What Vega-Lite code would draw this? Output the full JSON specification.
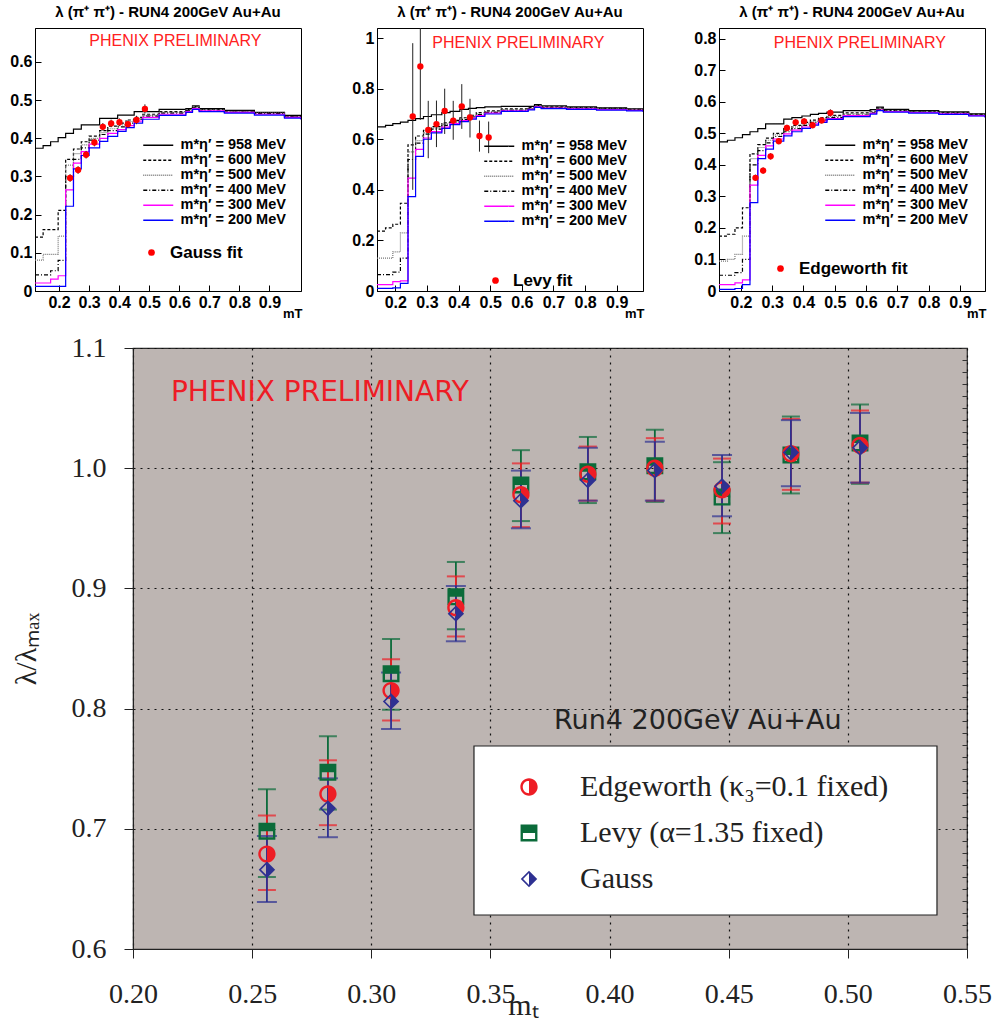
{
"$schema": "https://vega.github.io/schema/vega-lite/v6.json",
"background": "white",
"padding": {"left": 9, "top": 4, "right": 2, "bottom": 0},
"config": {
  "view": {"stroke": "black", "strokeWidth": 1},
  "axis": {"labelFlush": false, "labelOverlap": false},
  "font": "Liberation Sans"
},
"datasets": {
  "curves": [
    {"panel":1,"mt":0.12,"m958":0.374,"m600":0.141,"m500":0.081,"m400":0.042,"m300":0.021,"m200":0.012},
    {"panel":1,"mt":0.147,"m958":0.381,"m600":0.161,"m500":0.096,"m400":0.042,"m300":0.021,"m200":0.012},
    {"panel":1,"mt":0.172,"m958":0.391,"m600":0.161,"m500":0.096,"m400":0.053,"m300":0.031,"m200":0.012},
    {"panel":1,"mt":0.197,"m958":0.402,"m600":0.211,"m500":0.144,"m400":0.08,"m300":0.04,"m200":0.012},
    {"panel":1,"mt":0.222,"m958":0.413,"m600":0.345,"m500":0.33,"m400":0.3,"m300":0.265,"m200":0.222},
    {"panel":1,"mt":0.248,"m958":0.424,"m600":0.372,"m500":0.36,"m400":0.345,"m300":0.335,"m200":0.32},
    {"panel":1,"mt":0.274,"m958":0.435,"m600":0.391,"m500":0.383,"m400":0.375,"m300":0.365,"m200":0.355},
    {"panel":1,"mt":0.30,"m958":0.435,"m600":0.406,"m500":0.4,"m400":0.395,"m300":0.385,"m200":0.375},
    {"panel":1,"mt":0.335,"m958":0.452,"m600":0.42,"m500":0.415,"m400":0.41,"m300":0.4,"m200":0.392},
    {"panel":1,"mt":0.362,"m958":0.452,"m600":0.432,"m500":0.425,"m400":0.42,"m300":0.413,"m200":0.405},
    {"panel":1,"mt":0.395,"m958":0.461,"m600":0.44,"m500":0.435,"m400":0.43,"m300":0.423,"m200":0.418},
    {"panel":1,"mt":0.423,"m958":0.461,"m600":0.448,"m500":0.444,"m400":0.44,"m300":0.433,"m200":0.428},
    {"panel":1,"mt":0.45,"m958":0.47,"m600":0.455,"m500":0.452,"m400":0.45,"m300":0.445,"m200":0.44},
    {"panel":1,"mt":0.478,"m958":0.47,"m600":0.463,"m500":0.46,"m400":0.458,"m300":0.455,"m200":0.45},
    {"panel":1,"mt":0.533,"m958":0.476,"m600":0.47,"m500":0.468,"m400":0.466,"m300":0.463,"m200":0.46},
    {"panel":1,"mt":0.622,"m958":0.478,"m600":0.475,"m500":0.474,"m400":0.472,"m300":0.47,"m200":0.468},
    {"panel":1,"mt":0.644,"m958":0.485,"m600":0.483,"m500":0.482,"m400":0.48,"m300":0.478,"m200":0.476},
    {"panel":1,"mt":0.666,"m958":0.478,"m600":0.476,"m500":0.475,"m400":0.474,"m300":0.472,"m200":0.47},
    {"panel":1,"mt":0.75,"m958":0.473,"m600":0.472,"m500":0.47,"m400":0.469,"m300":0.468,"m200":0.466},
    {"panel":1,"mt":0.85,"m958":0.468,"m600":0.467,"m500":0.466,"m400":0.465,"m300":0.463,"m200":0.461},
    {"panel":1,"mt":0.95,"m958":0.46,"m600":0.458,"m500":0.457,"m400":0.456,"m300":0.455,"m200":0.453},
    {"panel":1,"mt":1.005,"m958":0.455,"m600":0.453,"m500":0.452,"m400":0.451,"m300":0.45,"m200":0.449},
    {"panel":2,"mt":0.142,"m958":0.649,"m600":0.237,"m500":0.13,"m400":0.065,"m300":0.025,"m200":0.01},
    {"panel":2,"mt":0.169,"m958":0.655,"m600":0.25,"m500":0.13,"m400":0.065,"m300":0.025,"m200":0.01},
    {"panel":2,"mt":0.192,"m958":0.662,"m600":0.264,"m500":0.155,"m400":0.075,"m300":0.037,"m200":0.012},
    {"panel":2,"mt":0.216,"m958":0.668,"m600":0.347,"m500":0.23,"m400":0.13,"m300":0.04,"m200":0.03},
    {"panel":2,"mt":0.240,"m958":0.675,"m600":0.578,"m500":0.55,"m400":0.52,"m300":0.446,"m200":0.373},
    {"panel":2,"mt":0.264,"m958":0.682,"m600":0.613,"m500":0.595,"m400":0.585,"m300":0.56,"m200":0.532},
    {"panel":2,"mt":0.289,"m958":0.69,"m600":0.635,"m500":0.625,"m400":0.62,"m300":0.605,"m200":0.6},
    {"panel":2,"mt":0.314,"m958":0.697,"m600":0.65,"m500":0.645,"m400":0.64,"m300":0.63,"m200":0.625},
    {"panel":2,"mt":0.347,"m958":0.705,"m600":0.665,"m500":0.66,"m400":0.655,"m300":0.648,"m200":0.643},
    {"panel":2,"mt":0.373,"m958":0.71,"m600":0.675,"m500":0.67,"m400":0.668,"m300":0.662,"m200":0.658},
    {"panel":2,"mt":0.404,"m958":0.718,"m600":0.685,"m500":0.68,"m400":0.678,"m300":0.674,"m200":0.67},
    {"panel":2,"mt":0.431,"m958":0.722,"m600":0.695,"m500":0.69,"m400":0.688,"m300":0.684,"m200":0.68},
    {"panel":2,"mt":0.456,"m958":0.725,"m600":0.705,"m500":0.7,"m400":0.698,"m300":0.694,"m200":0.69},
    {"panel":2,"mt":0.483,"m958":0.728,"m600":0.712,"m500":0.708,"m400":0.706,"m300":0.703,"m200":0.7},
    {"panel":2,"mt":0.535,"m958":0.73,"m600":0.72,"m500":0.716,"m400":0.714,"m300":0.712,"m200":0.71},
    {"panel":2,"mt":0.62,"m958":0.73,"m600":0.725,"m500":0.722,"m400":0.72,"m300":0.718,"m200":0.716},
    {"panel":2,"mt":0.640,"m958":0.737,"m600":0.733,"m500":0.731,"m400":0.73,"m300":0.728,"m200":0.726},
    {"panel":2,"mt":0.661,"m958":0.732,"m600":0.728,"m500":0.726,"m400":0.725,"m300":0.723,"m200":0.721},
    {"panel":2,"mt":0.741,"m958":0.728,"m600":0.725,"m500":0.723,"m400":0.722,"m300":0.72,"m200":0.718},
    {"panel":2,"mt":0.836,"m958":0.724,"m600":0.722,"m500":0.72,"m400":0.719,"m300":0.717,"m200":0.715},
    {"panel":2,"mt":0.931,"m958":0.72,"m600":0.718,"m500":0.716,"m400":0.715,"m300":0.714,"m200":0.712},
    {"panel":2,"mt":0.983,"m958":0.716,"m600":0.714,"m500":0.712,"m400":0.711,"m300":0.71,"m200":0.709},
    {"panel":3,"mt":0.13,"m958":0.473,"m600":0.174,"m500":0.095,"m400":0.05,"m300":0.02,"m200":0.005},
    {"panel":3,"mt":0.157,"m958":0.478,"m600":0.18,"m500":0.1,"m400":0.05,"m300":0.02,"m200":0.005},
    {"panel":3,"mt":0.181,"m958":0.486,"m600":0.2,"m500":0.116,"m400":0.058,"m300":0.026,"m200":0.008},
    {"panel":3,"mt":0.205,"m958":0.496,"m600":0.264,"m500":0.174,"m400":0.1,"m300":0.035,"m200":0.02},
    {"panel":3,"mt":0.229,"m958":0.505,"m600":0.435,"m500":0.42,"m400":0.4,"m300":0.336,"m200":0.28},
    {"panel":3,"mt":0.254,"m958":0.515,"m600":0.464,"m500":0.455,"m400":0.445,"m300":0.43,"m200":0.42},
    {"panel":3,"mt":0.279,"m958":0.53,"m600":0.485,"m500":0.478,"m400":0.47,"m300":0.46,"m200":0.45},
    {"panel":3,"mt":0.304,"m958":0.53,"m600":0.5,"m500":0.495,"m400":0.49,"m300":0.482,"m200":0.475},
    {"panel":3,"mt":0.337,"m958":0.545,"m600":0.515,"m500":0.51,"m400":0.505,"m300":0.498,"m200":0.492},
    {"panel":3,"mt":0.363,"m958":0.55,"m600":0.525,"m500":0.52,"m400":0.515,"m300":0.51,"m200":0.505},
    {"panel":3,"mt":0.395,"m958":0.555,"m600":0.535,"m500":0.53,"m400":0.525,"m300":0.52,"m200":0.516},
    {"panel":3,"mt":0.422,"m958":0.56,"m600":0.542,"m500":0.538,"m400":0.534,"m300":0.53,"m200":0.526},
    {"panel":3,"mt":0.448,"m958":0.563,"m600":0.55,"m500":0.546,"m400":0.542,"m300":0.539,"m200":0.535},
    {"panel":3,"mt":0.475,"m958":0.567,"m600":0.557,"m500":0.554,"m400":0.55,"m300":0.547,"m200":0.544},
    {"panel":3,"mt":0.527,"m958":0.572,"m600":0.565,"m500":0.562,"m400":0.558,"m300":0.556,"m200":0.553},
    {"panel":3,"mt":0.613,"m958":0.575,"m600":0.57,"m500":0.568,"m400":0.565,"m300":0.563,"m200":0.561},
    {"panel":3,"mt":0.634,"m958":0.583,"m600":0.58,"m500":0.578,"m400":0.576,"m300":0.574,"m200":0.572},
    {"panel":3,"mt":0.655,"m958":0.576,"m600":0.573,"m500":0.572,"m400":0.57,"m300":0.569,"m200":0.567},
    {"panel":3,"mt":0.736,"m958":0.572,"m600":0.57,"m500":0.568,"m400":0.567,"m300":0.566,"m200":0.564},
    {"panel":3,"mt":0.832,"m958":0.568,"m600":0.566,"m500":0.564,"m400":0.563,"m300":0.562,"m200":0.56},
    {"panel":3,"mt":0.928,"m958":0.562,"m600":0.56,"m500":0.558,"m400":0.557,"m300":0.556,"m200":0.555},
    {"panel":3,"mt":0.98,"m958":0.556,"m600":0.555,"m500":0.553,"m400":0.552,"m300":0.551,"m200":0.55}
  ],
  "fits": [
    {"panel":1,"fit":"Gauss fit","mt":0.2367,"lam":0.296,"lo":0.286,"hi":0.306},
    {"panel":1,"fit":"Gauss fit","mt":0.2633,"lam":0.317,"lo":0.307,"hi":0.327},
    {"panel":1,"fit":"Gauss fit","mt":0.29,"lam":0.357,"lo":0.347,"hi":0.367},
    {"panel":1,"fit":"Gauss fit","mt":0.3177,"lam":0.389,"lo":0.379,"hi":0.399},
    {"panel":1,"fit":"Gauss fit","mt":0.3457,"lam":0.43,"lo":0.42,"hi":0.44},
    {"panel":1,"fit":"Gauss fit","mt":0.3733,"lam":0.439,"lo":0.429,"hi":0.449},
    {"panel":1,"fit":"Gauss fit","mt":0.401,"lam":0.442,"lo":0.432,"hi":0.452},
    {"panel":1,"fit":"Gauss fit","mt":0.429,"lam":0.437,"lo":0.427,"hi":0.447},
    {"panel":1,"fit":"Gauss fit","mt":0.4577,"lam":0.448,"lo":0.437,"hi":0.459},
    {"panel":1,"fit":"Gauss fit","mt":0.4857,"lam":0.477,"lo":0.465,"hi":0.489},
    {"panel":2,"fit":"Levy fit","mt":0.255,"lam":0.69,"lo":0.40,"hi":0.98},
    {"panel":2,"fit":"Levy fit","mt":0.279,"lam":0.888,"lo":0.677,"hi":1.2},
    {"panel":2,"fit":"Levy fit","mt":0.304,"lam":0.637,"lo":0.525,"hi":0.752},
    {"panel":2,"fit":"Levy fit","mt":0.33,"lam":0.66,"lo":0.569,"hi":0.753},
    {"panel":2,"fit":"Levy fit","mt":0.356,"lam":0.712,"lo":0.621,"hi":0.8},
    {"panel":2,"fit":"Levy fit","mt":0.383,"lam":0.674,"lo":0.598,"hi":0.752},
    {"panel":2,"fit":"Levy fit","mt":0.41,"lam":0.73,"lo":0.641,"hi":0.818},
    {"panel":2,"fit":"Levy fit","mt":0.436,"lam":0.686,"lo":0.607,"hi":0.76},
    {"panel":2,"fit":"Levy fit","mt":0.466,"lam":0.613,"lo":0.551,"hi":0.674},
    {"panel":2,"fit":"Levy fit","mt":0.495,"lam":0.607,"lo":0.545,"hi":0.67},
    {"panel":3,"fit":"Edgeworth fit","mt":0.2465,"lam":0.359,"lo":0.349,"hi":0.369},
    {"panel":3,"fit":"Edgeworth fit","mt":0.271,"lam":0.382,"lo":0.372,"hi":0.392},
    {"panel":3,"fit":"Edgeworth fit","mt":0.295,"lam":0.427,"lo":0.417,"hi":0.437},
    {"panel":3,"fit":"Edgeworth fit","mt":0.321,"lam":0.475,"lo":0.465,"hi":0.485},
    {"panel":3,"fit":"Edgeworth fit","mt":0.347,"lam":0.517,"lo":0.507,"hi":0.527},
    {"panel":3,"fit":"Edgeworth fit","mt":0.375,"lam":0.535,"lo":0.525,"hi":0.545},
    {"panel":3,"fit":"Edgeworth fit","mt":0.402,"lam":0.538,"lo":0.528,"hi":0.548},
    {"panel":3,"fit":"Edgeworth fit","mt":0.429,"lam":0.526,"lo":0.516,"hi":0.536},
    {"panel":3,"fit":"Edgeworth fit","mt":0.458,"lam":0.541,"lo":0.531,"hi":0.551},
    {"panel":3,"fit":"Edgeworth fit","mt":0.486,"lam":0.565,"lo":0.554,"hi":0.576}
  ],
  "ratio": [
    {"fit":"Levy","mt":0.2562,"lam":0.698,"lo":0.66,"hi":0.733},
    {"fit":"Levy","mt":0.2818,"lam":0.747,"lo":0.716,"hi":0.777},
    {"fit":"Levy","mt":0.3083,"lam":0.829,"lo":0.799,"hi":0.858},
    {"fit":"Levy","mt":0.3355,"lam":0.893,"lo":0.866,"hi":0.922},
    {"fit":"Levy","mt":0.3628,"lam":0.986,"lo":0.956,"hi":1.015},
    {"fit":"Levy","mt":0.3909,"lam":0.997,"lo":0.971,"hi":1.026},
    {"fit":"Levy","mt":0.419,"lam":1.002,"lo":0.972,"hi":1.032},
    {"fit":"Levy","mt":0.4472,"lam":0.976,"lo":0.946,"hi":1.005},
    {"fit":"Levy","mt":0.4761,"lam":1.011,"lo":0.979,"hi":1.043},
    {"fit":"Levy","mt":0.5051,"lam":1.021,"lo":0.987,"hi":1.053},
    {"fit":"Edgeworth","mt":0.2562,"lam":0.679,"lo":0.649,"hi":0.711},
    {"fit":"Edgeworth","mt":0.2818,"lam":0.729,"lo":0.703,"hi":0.757},
    {"fit":"Edgeworth","mt":0.3083,"lam":0.815,"lo":0.79,"hi":0.841},
    {"fit":"Edgeworth","mt":0.3355,"lam":0.884,"lo":0.86,"hi":0.91},
    {"fit":"Edgeworth","mt":0.3628,"lam":0.978,"lo":0.951,"hi":1.004},
    {"fit":"Edgeworth","mt":0.3909,"lam":0.995,"lo":0.973,"hi":1.018},
    {"fit":"Edgeworth","mt":0.419,"lam":1.0,"lo":0.973,"hi":1.025},
    {"fit":"Edgeworth","mt":0.4472,"lam":0.982,"lo":0.954,"hi":1.008},
    {"fit":"Edgeworth","mt":0.4761,"lam":1.012,"lo":0.982,"hi":1.041},
    {"fit":"Edgeworth","mt":0.5051,"lam":1.019,"lo":0.988,"hi":1.048},
    {"fit":"Gauss","mt":0.2562,"lam":0.666,"lo":0.639,"hi":0.694},
    {"fit":"Gauss","mt":0.2818,"lam":0.717,"lo":0.693,"hi":0.742},
    {"fit":"Gauss","mt":0.3083,"lam":0.806,"lo":0.783,"hi":0.83},
    {"fit":"Gauss","mt":0.3355,"lam":0.879,"lo":0.856,"hi":0.902},
    {"fit":"Gauss","mt":0.3628,"lam":0.973,"lo":0.95,"hi":0.998},
    {"fit":"Gauss","mt":0.3909,"lam":0.99,"lo":0.973,"hi":1.017},
    {"fit":"Gauss","mt":0.419,"lam":0.998,"lo":0.973,"hi":1.022},
    {"fit":"Gauss","mt":0.4472,"lam":0.985,"lo":0.96,"hi":1.011},
    {"fit":"Gauss","mt":0.4761,"lam":1.013,"lo":0.985,"hi":1.04},
    {"fit":"Gauss","mt":0.5051,"lam":1.017,"lo":0.988,"hi":1.046}
  ]
},
"columns": 1,
"align": "none",
"bounds": "full",
"spacing": 12,
"resolve": {"scale": {"color": "independent", "strokeDash": "independent", "shape": "independent", "size": "independent"}},
"concat": [
 {
  "hconcat": [
   {
    "width": 266, "height": 263,
    "title": {"text": "λ (π⁺ π⁺) - RUN4 200GeV Au+Au", "font": "Liberation Sans", "fontSize": 15, "fontWeight": "bold", "color": "black", "offset": 8},
    "layer": [
     {
      "data": {"name": "curves"},
      "transform": [{"filter": "datum.panel == 1"}, {"fold": ["m958","m600","m500","m400","m300","m200"], "as": ["curve","lam"]}],
      "mark": {"type": "line", "interpolate": "step-after", "strokeWidth": 1.2, "clip": true},
      "encoding": {
       "x": {"field": "mt", "type": "quantitative", "scale": {"domain": [0.12, 1.005], "nice": false, "zero": false},
             "axis": {"values": [0.2,0.3,0.4,0.5,0.6,0.7,0.8,0.9], "tickCount": 30, "format": "~g", "labelOverlap": false, "labelFont": "Liberation Sans", "labelFontSize": 16, "labelFontWeight": "bold", "labelColor": "black", "labelPadding": 9, "tickSize": -6, "tickColor": "black", "domainColor": "black", "grid": false,
                      "title": "mT", "titleFont": "Liberation Sans", "titleFontSize": 13, "titleFontWeight": "bold", "titleColor": "black", "titleAlign": "right", "titleX": 267, "titleY": 22, "titleBaseline": "middle"}},
       "y": {"field": "lam", "type": "quantitative", "scale": {"domain": [0, 0.689], "nice": false, "zero": false},
             "axis": {"values": [0,0.1,0.2,0.3,0.4,0.5,0.6], "tickCount": 30, "format": "~g", "labelOverlap": false, "labelFont": "Liberation Sans", "labelFontSize": 16, "labelFontWeight": "bold", "labelColor": "black", "labelPadding": 9, "tickSize": -6, "tickColor": "black", "domainColor": "black", "grid": false, "title": null}},
       "color": {"field": "curve", "type": "nominal", "scale": {"domain": ["m958","m600","m500","m400","m300","m200"], "range": ["black","black","#777777","black","#ff00ff","#0000ff"]},
                 "legend": {"orient": "none", "legendX": 116, "legendY": 110, "title": null, "symbolType": "M-3,0L3,0", "symbolSize": 100, "symbolStrokeWidth": 1.4, "labelFont": "Liberation Sans", "labelFontSize": 14.5, "labelFontWeight": "bold", "labelColor": "black", "labelOffset": 15, "rowPadding": 0, "padding": 0, "labelExpr": "'m*η′ = ' + substring(datum.label, 1) + ' MeV'"}},
       "strokeDash": {"field": "curve", "type": "nominal", "scale": {"domain": ["m958","m600","m500","m400","m300","m200"], "range": [[1,0],[3,2],[1,1],[4,2,1,2],[1,0],[1,0]]},
                 "legend": {"orient": "none", "legendX": 116, "legendY": 110, "title": null, "symbolType": "M-3,0L3,0", "symbolSize": 100, "symbolStrokeWidth": 1.4, "labelFont": "Liberation Sans", "labelFontSize": 14.5, "labelFontWeight": "bold", "labelColor": "black", "labelOffset": 15, "rowPadding": 0, "padding": 0, "labelExpr": "'m*η′ = ' + substring(datum.label, 1) + ' MeV'"}}
      }
     },
     {
      "data": {"name": "fits"},
      "transform": [{"filter": "datum.panel == 1"}],
      "mark": {"type": "rule", "color": "#222222", "strokeWidth": 1, "clip": true},
      "encoding": {"x": {"field": "mt", "type": "quantitative"}, "y": {"field": "lo", "type": "quantitative"}, "y2": {"field": "hi"}}
     },
     {
      "data": {"name": "fits"},
      "transform": [{"filter": "datum.panel == 1"}],
      "mark": {"type": "point", "filled": true, "color": "#ff0000", "opacity": 1, "size": 40},
      "encoding": {"x": {"field": "mt", "type": "quantitative"}, "y": {"field": "lam", "type": "quantitative"},
                   "shape": {"field": "fit", "type": "nominal", "scale": {"range": ["circle"]}, "legend": {"orient": "none", "legendX": 108, "legendY": 216, "title": null, "symbolSize": 45, "labelFont": "Liberation Sans", "labelFontSize": 17, "labelFontWeight": "bold", "labelColor": "black", "labelOffset": 10, "padding": 0}}}
     },
     {
      "data": {"values": [{}]},
      "mark": {"type": "text", "text": "PHENIX PRELIMINARY", "color": "#ff2020", "font": "Liberation Sans", "fontSize": 16},
      "encoding": {"x": {"datum": 0.587, "type": "quantitative"}, "y": {"datum": 0.656, "type": "quantitative"}}
     }
    ]
   },
   {
    "width": 266, "height": 263,
    "title": {"text": "λ (π⁺ π⁺) - RUN4 200GeV Au+Au", "font": "Liberation Sans", "fontSize": 15, "fontWeight": "bold", "color": "black", "offset": 8},
    "layer": [
     {
      "data": {"name": "curves"},
      "transform": [{"filter": "datum.panel == 2"}, {"fold": ["m958","m600","m500","m400","m300","m200"], "as": ["curve","lam"]}],
      "mark": {"type": "line", "interpolate": "step-after", "strokeWidth": 1.2, "clip": true},
      "encoding": {
       "x": {"field": "mt", "type": "quantitative", "scale": {"domain": [0.142, 0.983], "nice": false, "zero": false},
             "axis": {"values": [0.2,0.3,0.4,0.5,0.6,0.7,0.8,0.9], "tickCount": 30, "format": "~g", "labelOverlap": false, "labelFont": "Liberation Sans", "labelFontSize": 16, "labelFontWeight": "bold", "labelColor": "black", "labelPadding": 9, "tickSize": -6, "tickColor": "black", "domainColor": "black", "grid": false,
                      "title": "mT", "titleFont": "Liberation Sans", "titleFontSize": 13, "titleFontWeight": "bold", "titleColor": "black", "titleAlign": "right", "titleX": 267, "titleY": 22, "titleBaseline": "middle"}},
       "y": {"field": "lam", "type": "quantitative", "scale": {"domain": [0, 1.04], "nice": false, "zero": false},
             "axis": {"values": [0,0.2,0.4,0.6,0.8,1], "tickCount": 30, "format": "~g", "labelOverlap": false, "labelFont": "Liberation Sans", "labelFontSize": 16, "labelFontWeight": "bold", "labelColor": "black", "labelPadding": 9, "tickSize": -6, "tickColor": "black", "domainColor": "black", "grid": false, "title": null}},
       "color": {"field": "curve", "type": "nominal", "scale": {"domain": ["m958","m600","m500","m400","m300","m200"], "range": ["black","black","#777777","black","#ff00ff","#0000ff"]},
                 "legend": {"orient": "none", "legendX": 115, "legendY": 111, "title": null, "symbolType": "M-3,0L3,0", "symbolSize": 100, "symbolStrokeWidth": 1.4, "labelFont": "Liberation Sans", "labelFontSize": 14.5, "labelFontWeight": "bold", "labelColor": "black", "labelOffset": 15, "rowPadding": 0, "padding": 0, "labelExpr": "'m*η′ = ' + substring(datum.label, 1) + ' MeV'"}},
       "strokeDash": {"field": "curve", "type": "nominal", "scale": {"domain": ["m958","m600","m500","m400","m300","m200"], "range": [[1,0],[3,2],[1,1],[4,2,1,2],[1,0],[1,0]]},
                 "legend": {"orient": "none", "legendX": 115, "legendY": 111, "title": null, "symbolType": "M-3,0L3,0", "symbolSize": 100, "symbolStrokeWidth": 1.4, "labelFont": "Liberation Sans", "labelFontSize": 14.5, "labelFontWeight": "bold", "labelColor": "black", "labelOffset": 15, "rowPadding": 0, "padding": 0, "labelExpr": "'m*η′ = ' + substring(datum.label, 1) + ' MeV'"}}
      }
     },
     {
      "data": {"name": "fits"},
      "transform": [{"filter": "datum.panel == 2"}],
      "mark": {"type": "rule", "color": "#222222", "strokeWidth": 1, "clip": true},
      "encoding": {"x": {"field": "mt", "type": "quantitative"}, "y": {"field": "lo", "type": "quantitative"}, "y2": {"field": "hi"}}
     },
     {
      "data": {"name": "fits"},
      "transform": [{"filter": "datum.panel == 2"}],
      "mark": {"type": "point", "filled": true, "color": "#ff0000", "opacity": 1, "size": 40},
      "encoding": {"x": {"field": "mt", "type": "quantitative"}, "y": {"field": "lam", "type": "quantitative"},
                   "shape": {"field": "fit", "type": "nominal", "scale": {"range": ["circle"]}, "legend": {"orient": "none", "legendX": 110, "legendY": 244, "title": null, "symbolSize": 45, "labelFont": "Liberation Sans", "labelFontSize": 17, "labelFontWeight": "bold", "labelColor": "black", "labelOffset": 9, "padding": 0}}}
     },
     {
      "data": {"values": [{}]},
      "mark": {"type": "text", "text": "PHENIX PRELIMINARY", "color": "#ff2020", "font": "Liberation Sans", "fontSize": 16},
      "encoding": {"x": {"datum": 0.589, "type": "quantitative"}, "y": {"datum": 0.979, "type": "quantitative"}}
     }
    ]
   },
   {
    "width": 266, "height": 263,
    "title": {"text": "λ (π⁺ π⁺) - RUN4 200GeV Au+Au", "font": "Liberation Sans", "fontSize": 15, "fontWeight": "bold", "color": "black", "offset": 8},
    "layer": [
     {
      "data": {"name": "curves"},
      "transform": [{"filter": "datum.panel == 3"}, {"fold": ["m958","m600","m500","m400","m300","m200"], "as": ["curve","lam"]}],
      "mark": {"type": "line", "interpolate": "step-after", "strokeWidth": 1.2, "clip": true},
      "encoding": {
       "x": {"field": "mt", "type": "quantitative", "scale": {"domain": [0.13, 0.98], "nice": false, "zero": false},
             "axis": {"values": [0.2,0.3,0.4,0.5,0.6,0.7,0.8,0.9], "tickCount": 30, "format": "~g", "labelOverlap": false, "labelFont": "Liberation Sans", "labelFontSize": 16, "labelFontWeight": "bold", "labelColor": "black", "labelPadding": 9, "tickSize": -6, "tickColor": "black", "domainColor": "black", "grid": false,
                      "title": "mT", "titleFont": "Liberation Sans", "titleFontSize": 13, "titleFontWeight": "bold", "titleColor": "black", "titleAlign": "right", "titleX": 267, "titleY": 22, "titleBaseline": "middle"}},
       "y": {"field": "lam", "type": "quantitative", "scale": {"domain": [0, 0.834], "nice": false, "zero": false},
             "axis": {"values": [0,0.1,0.2,0.3,0.4,0.5,0.6,0.7,0.8], "tickCount": 30, "format": "~g", "labelOverlap": false, "labelFont": "Liberation Sans", "labelFontSize": 16, "labelFontWeight": "bold", "labelColor": "black", "labelPadding": 9, "tickSize": -6, "tickColor": "black", "domainColor": "black", "grid": false, "title": null}},
       "color": {"field": "curve", "type": "nominal", "scale": {"domain": ["m958","m600","m500","m400","m300","m200"], "range": ["black","black","#777777","black","#ff00ff","#0000ff"]},
                 "legend": {"orient": "none", "legendX": 114, "legendY": 110, "title": null, "symbolType": "M-3,0L3,0", "symbolSize": 100, "symbolStrokeWidth": 1.4, "labelFont": "Liberation Sans", "labelFontSize": 14.5, "labelFontWeight": "bold", "labelColor": "black", "labelOffset": 15, "rowPadding": 0, "padding": 0, "labelExpr": "'m*η′ = ' + substring(datum.label, 1) + ' MeV'"}},
       "strokeDash": {"field": "curve", "type": "nominal", "scale": {"domain": ["m958","m600","m500","m400","m300","m200"], "range": [[1,0],[3,2],[1,1],[4,2,1,2],[1,0],[1,0]]},
                 "legend": {"orient": "none", "legendX": 114, "legendY": 110, "title": null, "symbolType": "M-3,0L3,0", "symbolSize": 100, "symbolStrokeWidth": 1.4, "labelFont": "Liberation Sans", "labelFontSize": 14.5, "labelFontWeight": "bold", "labelColor": "black", "labelOffset": 15, "rowPadding": 0, "padding": 0, "labelExpr": "'m*η′ = ' + substring(datum.label, 1) + ' MeV'"}}
      }
     },
     {
      "data": {"name": "fits"},
      "transform": [{"filter": "datum.panel == 3"}],
      "mark": {"type": "rule", "color": "#222222", "strokeWidth": 1, "clip": true},
      "encoding": {"x": {"field": "mt", "type": "quantitative"}, "y": {"field": "lo", "type": "quantitative"}, "y2": {"field": "hi"}}
     },
     {
      "data": {"name": "fits"},
      "transform": [{"filter": "datum.panel == 3"}],
      "mark": {"type": "point", "filled": true, "color": "#ff0000", "opacity": 1, "size": 40},
      "encoding": {"x": {"field": "mt", "type": "quantitative"}, "y": {"field": "lam", "type": "quantitative"},
                   "shape": {"field": "fit", "type": "nominal", "scale": {"range": ["circle"]}, "legend": {"orient": "none", "legendX": 53, "legendY": 232, "title": null, "symbolSize": 45, "labelFont": "Liberation Sans", "labelFontSize": 17, "labelFontWeight": "bold", "labelColor": "black", "labelOffset": 10, "padding": 0}}}
     },
     {
      "data": {"values": [{}]},
      "mark": {"type": "text", "text": "PHENIX PRELIMINARY", "color": "#ff2020", "font": "Liberation Sans", "fontSize": 16},
      "encoding": {"x": {"datum": 0.58, "type": "quantitative"}, "y": {"datum": 0.785, "type": "quantitative"}}
     }
    ]
   }
  ],
  "bounds": "flush",
  "spacing": 76,
  "resolve": {"scale": {"color": "independent", "strokeDash": "independent", "shape": "independent", "size": "independent"}}
 },
 {
  "hconcat": [
   {
    "width": 60, "height": 601,
    "view": {"stroke": null, "fill": null},
    "data": {"values": []},
    "mark": {"type": "point", "opacity": 0}
   },
   {
    "width": 834, "height": 601,
    "view": {"fill": "#bdb5b2", "stroke": "#2a2a2a", "strokeWidth": 1.2},
    "resolve": {"axis": {"y": "independent"}},
    "layer": [
     {
      "data": {"values": [{}]},
      "mark": {"type": "rect", "fill": "white", "stroke": "#222222", "strokeWidth": 1.2},
      "encoding": {
       "x": {"datum": 0.3431, "type": "quantitative", "scale": {"domain": [0.2, 0.55], "nice": false, "zero": false},
             "axis": {"values": [0.2,0.25,0.3,0.35,0.4,0.45,0.5,0.55], "tickCount": 30, "format": ".2f", "labelOverlap": false, "labelFont": "Liberation Serif", "labelFontSize": 28, "labelColor": "#222222", "labelPadding": 22, "tickSize": 9, "tickColor": "#222222", "domainColor": "#222222",
                      "grid": true, "gridDash": [2,5], "gridColor": "#111111", "gridWidth": 1.2,
                      "title": "mₜ", "titleFont": "Liberation Serif", "titleFontSize": 30, "titleFontWeight": "normal", "titleColor": "#222222", "titleX": 390, "titleY": 56, "titleBaseline": "middle", "titleAlign": "center"}},
       "x2": {"datum": 0.5374},
       "y": {"datum": 0.7689, "type": "quantitative", "scale": {"domain": [0.6, 1.1], "nice": false, "zero": false},
             "axis": {"values": [0.6,0.7,0.8,0.9,1.0,1.1], "tickCount": 30, "format": ".1f", "labelOverlap": false, "labelFont": "Liberation Serif", "labelFontSize": 28, "labelColor": "#222222", "labelPadding": 18, "tickSize": 9, "tickColor": "#222222", "domainColor": "#222222",
                      "grid": true, "gridDash": [2,5], "gridColor": "#111111", "gridWidth": 1.2,
                      "title": "λ/λₘₐₓ", "titleFont": "Liberation Serif", "titleFontSize": 30, "titleFontWeight": "normal", "titleColor": "#222222", "titlePadding": 30}},
       "y2": {"datum": 0.6283}
      }
     },
     {
      "data": {"values": [{}]},
      "mark": {"type": "rule", "opacity": 0},
      "encoding": {
       "y": {"datum": 1.0, "type": "quantitative",
             "axis": {"orient": "right", "tickCount": 200, "values": [0.6,0.61,0.62,0.63,0.64,0.65,0.66,0.67,0.68,0.69,0.7,0.71,0.72,0.73,0.74,0.75,0.76,0.77,0.78,0.79,0.8,0.81,0.82,0.83,0.84,0.85,0.86,0.87,0.88,0.89,0.9,0.91,0.92,0.93,0.94,0.95,0.96,0.97,0.98,0.99,1.0,1.01,1.02,1.03,1.04,1.05,1.06,1.07,1.08,1.09,1.1],
                      "labels": false, "tickSize": -5, "tickColor": "#333333", "domain": false, "grid": false, "title": null}}
      }
     },
     {
      "data": {"values": [{}]},
      "mark": {"type": "text", "text": "PHENIX PRELIMINARY", "color": "#ee1c25", "font": "DejaVu Sans", "fontSize": 28, "align": "left", "baseline": "middle"},
      "encoding": {"x": {"datum": 0.2159, "type": "quantitative"}, "y": {"datum": 1.0626, "type": "quantitative", "axis": null}}
     },
     {
      "data": {"values": [{}]},
      "mark": {"type": "text", "text": "Run4 200GeV Au+Au", "color": "#222222", "font": "DejaVu Sans", "fontSize": 27, "align": "left", "baseline": "middle"},
      "encoding": {"x": {"datum": 0.3767, "type": "quantitative"}, "y": {"datum": 0.7897, "type": "quantitative", "axis": null}}
     },
     {
      "data": {"name": "ratio"},
      "transform": [{"filter": "datum.fit == 'Levy'"}],
      "layer": [
       {"mark": {"type": "rule", "strokeWidth": 1.8, "color": "#0b6b3a"},
        "encoding": {"x": {"field": "mt", "type": "quantitative"}, "y": {"field": "lo", "type": "quantitative", "axis": null}, "y2": {"field": "hi"}}},
       {"mark": {"type": "tick", "orient": "horizontal", "size": 18, "thickness": 2, "color": "#0b6b3a"},
        "encoding": {"x": {"field": "mt", "type": "quantitative"}, "y": {"field": "hi", "type": "quantitative", "axis": null}}},
       {"mark": {"type": "tick", "orient": "horizontal", "size": 18, "thickness": 2, "color": "#0b6b3a"},
        "encoding": {"x": {"field": "mt", "type": "quantitative"}, "y": {"field": "lo", "type": "quantitative", "axis": null}}}
      ]
     },
     {
      "data": {"name": "ratio"},
      "transform": [{"filter": "datum.fit == 'Edgeworth'"}],
      "layer": [
       {"mark": {"type": "rule", "strokeWidth": 1.8, "color": "#ee1d25"},
        "encoding": {"x": {"field": "mt", "type": "quantitative"}, "y": {"field": "lo", "type": "quantitative", "axis": null}, "y2": {"field": "hi"}}},
       {"mark": {"type": "tick", "orient": "horizontal", "size": 18, "thickness": 2, "color": "#ee1d25"},
        "encoding": {"x": {"field": "mt", "type": "quantitative"}, "y": {"field": "hi", "type": "quantitative", "axis": null}}},
       {"mark": {"type": "tick", "orient": "horizontal", "size": 18, "thickness": 2, "color": "#ee1d25"},
        "encoding": {"x": {"field": "mt", "type": "quantitative"}, "y": {"field": "lo", "type": "quantitative", "axis": null}}}
      ]
     },
     {
      "data": {"name": "ratio"},
      "transform": [{"filter": "datum.fit == 'Gauss'"}],
      "layer": [
       {"mark": {"type": "rule", "strokeWidth": 1.8, "color": "#2e3192"},
        "encoding": {"x": {"field": "mt", "type": "quantitative"}, "y": {"field": "lo", "type": "quantitative", "axis": null}, "y2": {"field": "hi"}}},
       {"mark": {"type": "tick", "orient": "horizontal", "size": 20, "thickness": 2, "color": "#2e3192"},
        "encoding": {"x": {"field": "mt", "type": "quantitative"}, "y": {"field": "hi", "type": "quantitative", "axis": null}}},
       {"mark": {"type": "tick", "orient": "horizontal", "size": 20, "thickness": 2, "color": "#2e3192"},
        "encoding": {"x": {"field": "mt", "type": "quantitative"}, "y": {"field": "lo", "type": "quantitative", "axis": null}}}
      ]
     },
     {
      "data": {"name": "ratio"},
      "mark": {"type": "point", "filled": true, "opacity": 1, "strokeWidth": 0},
      "encoding": {
       "x": {"field": "mt", "type": "quantitative"},
       "y": {"field": "lam", "type": "quantitative", "axis": null},
       "color": {"field": "fit", "type": "nominal", "scale": {"domain": ["Edgeworth","Levy","Gauss"], "range": ["#ee1d25","#0b6b3a","#2e3192"]},
                 "legend": {"orient": "none", "legendX": 479, "legendY": 424, "title": null, "labelFont": "Liberation Serif", "labelFontSize": 30, "labelColor": "#222222", "labelOffset": 36, "rowPadding": 16, "padding": 0, "symbolStrokeWidth": 0, "labelLimit": 400,
                            "labelExpr": "datum.label == 'Edgeworth' ? 'Edgeworth (κ₃=0.1 fixed)' : (datum.label == 'Levy' ? 'Levy (α=1.35 fixed)' : datum.label)"}},
       "shape": {"field": "fit", "type": "nominal",
                 "scale": {"domain": ["Edgeworth","Levy","Gauss"], "range": ["M0 -1 A1 1 0 0 1 0 1 Z M0 -1 A1 1 0 0 0 0 1 L0 0.72 A0.72 0.72 0 0 1 0 -0.72 Z", "M-1 -1 L1 -1 L1 0 L-1 0 Z M-1 0 L-1 1 L1 1 L1 0 L0.72 0 L0.72 0.72 L-0.72 0.72 L-0.72 0 Z", "M0 -1 L1 0 L0 1 Z M0 -1 L-1 0 L0 1 L0 0.72 L-0.72 0 L0 -0.72 Z"]},
                 "legend": {"orient": "none", "legendX": 479, "legendY": 424, "title": null, "labelFont": "Liberation Serif", "labelFontSize": 30, "labelColor": "#222222", "labelOffset": 36, "rowPadding": 16, "padding": 0, "symbolStrokeWidth": 0, "labelLimit": 400,
                            "labelExpr": "datum.label == 'Edgeworth' ? 'Edgeworth (κ₃=0.1 fixed)' : (datum.label == 'Levy' ? 'Levy (α=1.35 fixed)' : datum.label)"}},
       "size": {"field": "fit", "type": "nominal",
                "scale": {"domain": ["Edgeworth","Levy","Gauss"], "range": [300, 270, 480]},
                "legend": {"orient": "none", "legendX": 479, "legendY": 424, "title": null, "labelFont": "Liberation Serif", "labelFontSize": 30, "labelColor": "#222222", "labelOffset": 36, "rowPadding": 16, "padding": 0, "symbolStrokeWidth": 0, "labelLimit": 400,
                           "labelExpr": "datum.label == 'Edgeworth' ? 'Edgeworth (κ₃=0.1 fixed)' : (datum.label == 'Levy' ? 'Levy (α=1.35 fixed)' : datum.label)"}}
      }
     }
    ]
   }
  ],
  "bounds": "flush",
  "spacing": 38
 }
]
}
